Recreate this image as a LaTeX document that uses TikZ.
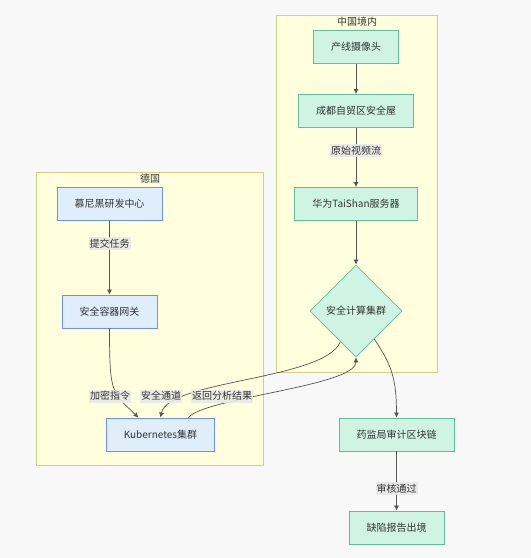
\documentclass[tikz,border=0pt]{standalone}
\usepackage{fontspec}
\setmainfont{Noto Sans CJK SC}
\usetikzlibrary{arrows.meta,shapes.geometric}
\definecolor{pageBg}{HTML}{F8F8F8}
\definecolor{clusterBg}{HTML}{FFFFDE}
\definecolor{clusterBorder}{HTML}{D2CE86}
\definecolor{cnBg}{HTML}{D0F4E4}
\definecolor{cnBorder}{HTML}{62BB9A}
\definecolor{deBg}{HTML}{E0EEFC}
\definecolor{deBorder}{HTML}{6F92E0}
\definecolor{labelBg}{HTML}{E8E8E8}
\definecolor{edgeCol}{HTML}{555555}
\definecolor{textCol}{HTML}{333333}
\tikzset{
  box/.style={draw, line width=0.8pt, minimum height=33pt, inner xsep=17.5pt,
    font=\fontsize{10}{12}\selectfont, text=textCol},
  cnbox/.style={box, fill=cnBg, draw=cnBorder},
  debox/.style={box, fill=deBg, draw=deBorder},
  cluster/.style={draw=clusterBorder, fill=clusterBg, line width=0.8pt},
  ctitle/.style={font=\fontsize{10}{12}\selectfont, text=textCol, inner sep=0pt},
  elabel/.style={fill=labelBg, fill opacity=0.9, text opacity=1, inner xsep=1pt,
    inner ysep=0pt, minimum height=13pt, font=\fontsize{10}{12}\selectfont, text=textCol},
  flow/.style={draw=edgeCol, line width=0.7pt, -{Latex[length=5pt,width=5pt]}}
}
\begin{document}
\begin{tikzpicture}[x=1pt, y=-1pt]
   \fill[pageBg] (0,0) rectangle (531,558);
   \useasboundingbox (0,0) rectangle (531,558);

   % clusters
   \draw[cluster] (276,15) rectangle (437,372);
   \node[ctitle] (cntitle) at (357,22) {中国境内};
   \draw[cluster] (36,172) rectangle (263,465);
   \node[ctitle] (detitle) at (150,179) {德国};

   % china
   \node[cnbox] (cam) at (356,47) {产线摄像头};
   \node[cnbox] (room) at (356,111) {成都自贸区安全屋};
   \node[cnbox] (srv) at (356,204) {华为TaiShan服务器};
   \node[diamond, aspect=1, draw=cnBorder, fill=cnBg, line width=0.8pt, inner sep=0pt,
     minimum width=92pt, minimum height=92pt, text=textCol,
     font=\fontsize{10}{12}\selectfont] (sec) at (356,311) {安全计算集群};

   % germany
   \node[debox] (rnd) at (109.5,204) {慕尼黑研发中心};
   \node[debox] (gw) at (109.5,311.5) {安全容器网关};
   \node[debox] (k8s) at (160.5,434.5) {Kubernetes集群};

   % outside
   \node[cnbox] (audit) at (396.5,434.5) {药监局审计区块链};
   \node[cnbox] (out) at (396.5,527.5) {缺陷报告出境};

   \draw[flow] (cam) -- (room);
   \draw[flow] (room) -- node[elabel, pos=0.38] {原始视频流} (srv);
   \draw[flow] (srv) -- (sec.north);
   \draw[flow] (rnd) -- node[elabel, pos=0.31] {提交任务} (gw);
   \draw[flow] (gw.south) .. controls (109.5,395) and (112,392) .. ([xshift=-22pt]k8s.north);
   \draw[flow] (sec.243) .. controls (325,380) and (168,380) .. (k8s.north);
   \draw[flow] ([xshift=28pt]k8s.north) .. controls (203,398) and (356,386) .. (sec.south);
   \draw[flow] (sec.-57) .. controls (392,365) and (396.5,380) .. (audit.north);
   \draw[flow] (audit) -- node[elabel, pos=0.63] {审核通过} (out);

   \node[elabel] (l1) at (110,396) {加密指令};
   \node[elabel] (l2) at (161,396) {安全通道};
   \node[elabel] (l3) at (222,396) {返回分析结果};

\end{tikzpicture}
\end{document}
